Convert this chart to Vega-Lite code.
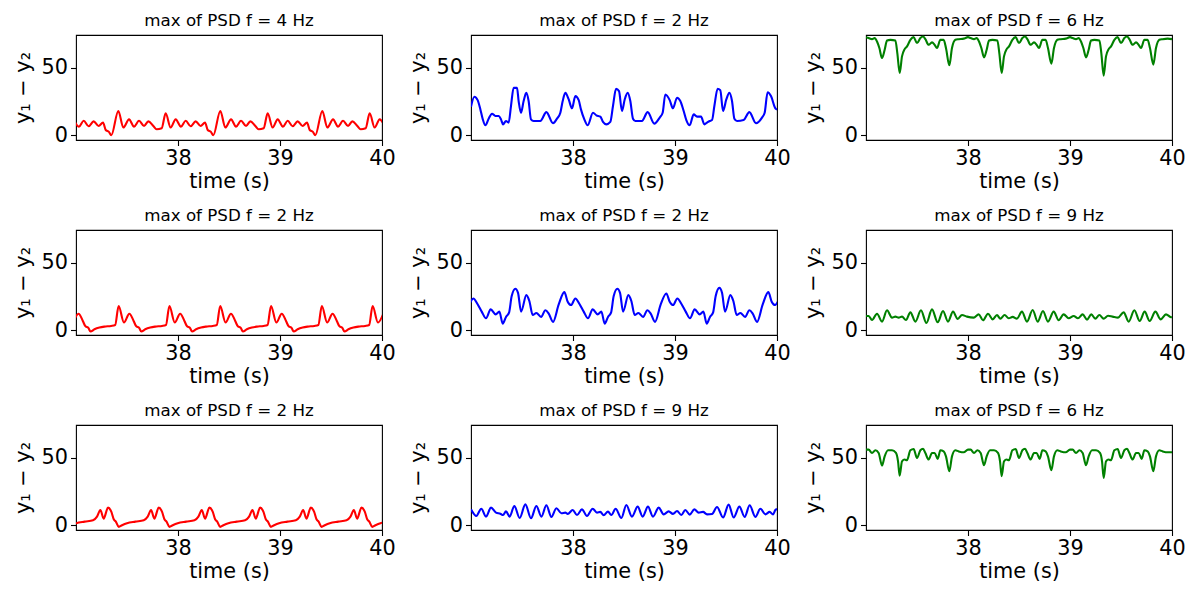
{
  "$schema": "https://vega.github.io/schema/vega-lite/v6.json",
  "background": "white",
  "padding": {"left": 11, "top": 12, "right": 5, "bottom": 5},
  "columns": 3,
  "bounds": "flush",
  "spacing": {"row": 90, "column": 89},
  "config": {
    "font": "DejaVu Sans",
    "view": {"stroke": "black", "strokeWidth": 1.1},
    "axis": {
      "labelFont": "DejaVu Sans",
      "titleFont": "DejaVu Sans",
      "labelFontSize": 20.8,
      "titleFontSize": 20.8,
      "titleFontWeight": "normal",
      "labelColor": "black",
      "titleColor": "black",
      "tickColor": "black",
      "tickSize": 5.5,
      "tickWidth": 1.1,
      "domain": false,
      "grid": false,
      "labelFlush": false,
      "labelOverlap": false,
      "labelBound": false
    },
    "axisX": {"labelPadding": 3, "titlePadding": 3},
    "axisY": {"labelPadding": 3, "titlePadding": 8},
    "title": {"font": "DejaVu Sans", "fontSize": 16.7, "fontWeight": "normal", "color": "black", "offset": 5}
  },
  "datasets": {
    "p1": [
      {"t": 36.977, "v": 11.8}, {"t": 37.029, "v": 6.4}, {"t": 37.075, "v": 10.8}, {"t": 37.124, "v": 6.7}, {"t": 37.173, "v": 10.3}, {"t": 37.222, "v": 6.9}, {"t": 37.265, "v": 9.4}, {"t": 37.291, "v": 3.9}, {"t": 37.323, "v": 2.5}, {"t": 37.346, "v": 0},
      {"t": 37.415, "v": 18}, {"t": 37.464, "v": 5.7}, {"t": 37.52, "v": 11.8}, {"t": 37.569, "v": 6.4}, {"t": 37.618, "v": 10.8}, {"t": 37.667, "v": 6.9}, {"t": 37.709, "v": 10.3}, {"t": 37.758, "v": 6.9}, {"t": 37.791, "v": 4.4}, {"t": 37.84, "v": 5.2}, {"t": 37.879, "v": 16.3}, {"t": 37.928, "v": 5.7}, {"t": 37.977, "v": 11.8}, {"t": 38.029, "v": 6.4}, {"t": 38.075, "v": 10.8}, {"t": 38.124, "v": 6.7}, {"t": 38.173, "v": 10.3}, {"t": 38.222, "v": 6.9}, {"t": 38.265, "v": 9.4}, {"t": 38.291, "v": 3.9}, {"t": 38.323, "v": 2.5}, {"t": 38.346, "v": 0},
      {"t": 38.415, "v": 18}, {"t": 38.464, "v": 5.7}, {"t": 38.52, "v": 11.8}, {"t": 38.569, "v": 6.4}, {"t": 38.618, "v": 10.8}, {"t": 38.667, "v": 6.9}, {"t": 38.709, "v": 10.3}, {"t": 38.758, "v": 6.9}, {"t": 38.791, "v": 4.4}, {"t": 38.84, "v": 5.2}, {"t": 38.879, "v": 16.3}, {"t": 38.928, "v": 5.7}, {"t": 38.977, "v": 11.8}, {"t": 39.029, "v": 6.4}, {"t": 39.075, "v": 10.8}, {"t": 39.124, "v": 6.7}, {"t": 39.173, "v": 10.3}, {"t": 39.222, "v": 6.9}, {"t": 39.265, "v": 9.4}, {"t": 39.291, "v": 3.9}, {"t": 39.323, "v": 2.5}, {"t": 39.346, "v": 0},
      {"t": 39.415, "v": 18}, {"t": 39.464, "v": 5.7}, {"t": 39.52, "v": 11.8}, {"t": 39.569, "v": 6.4}, {"t": 39.618, "v": 10.8}, {"t": 39.667, "v": 6.9}, {"t": 39.709, "v": 10.3}, {"t": 39.758, "v": 6.9}, {"t": 39.791, "v": 4.4}, {"t": 39.84, "v": 5.2}, {"t": 39.879, "v": 16.3}, {"t": 39.928, "v": 5.7}, {"t": 39.977, "v": 11.8}, {"t": 40.029, "v": 6.4}
    ],
    "p2": [
      {"t": 37.0, "v": 21.2}, {"t": 37.033, "v": 28.6}, {"t": 37.065, "v": 26.1}, {"t": 37.092, "v": 19.2}, {"t": 37.114, "v": 12.3}, {"t": 37.141, "v": 7.4}, {"t": 37.173, "v": 12.3}, {"t": 37.206, "v": 16.0}, {"t": 37.239, "v": 14.3}, {"t": 37.271, "v": 14.3}, {"t": 37.294, "v": 11.8}, {"t": 37.314, "v": 8.1}, {"t": 37.343, "v": 10.6}, {"t": 37.369, "v": 9.4}, {"t": 37.392, "v": 21.7}, {"t": 37.418, "v": 35.2}, {"t": 37.451, "v": 35.2}, {"t": 37.467, "v": 25.4}, {"t": 37.49, "v": 16.7}, {"t": 37.516, "v": 25.4}, {"t": 37.542, "v": 31.5}, {"t": 37.565, "v": 25.4}, {"t": 37.588, "v": 11.8}, {"t": 37.614, "v": 10.6}, {"t": 37.68, "v": 10.6}, {"t": 37.739, "v": 17.2}, {"t": 37.804, "v": 8.9}, {"t": 37.843, "v": 12.3}, {"t": 37.876, "v": 16.7}, {"t": 37.899, "v": 25.4}, {"t": 37.925, "v": 31.5}, {"t": 37.958, "v": 26.6}, {"t": 37.99, "v": 20.0},
      {"t": 38.023, "v": 29.1}, {"t": 38.056, "v": 26.1}, {"t": 38.078, "v": 19.2}, {"t": 38.111, "v": 11.8}, {"t": 38.144, "v": 7.4}, {"t": 38.196, "v": 16.7}, {"t": 38.229, "v": 14.8}, {"t": 38.268, "v": 13.8}, {"t": 38.294, "v": 9.9}, {"t": 38.327, "v": 8.1}, {"t": 38.366, "v": 9.9}, {"t": 38.392, "v": 21.7}, {"t": 38.422, "v": 34.5}, {"t": 38.451, "v": 32.8}, {"t": 38.48, "v": 18.0}, {"t": 38.507, "v": 26.6}, {"t": 38.536, "v": 31.5}, {"t": 38.562, "v": 25.4}, {"t": 38.588, "v": 12.3}, {"t": 38.611, "v": 10.6}, {"t": 38.676, "v": 10.6}, {"t": 38.732, "v": 17.2}, {"t": 38.797, "v": 8.6}, {"t": 38.85, "v": 13.1}, {"t": 38.879, "v": 16.7}, {"t": 38.905, "v": 30.3}, {"t": 38.948, "v": 26.1}, {"t": 38.98, "v": 20.0},
      {"t": 39.02, "v": 27.8}, {"t": 39.052, "v": 25.4}, {"t": 39.085, "v": 18.0}, {"t": 39.111, "v": 11.3}, {"t": 39.144, "v": 7.4}, {"t": 39.183, "v": 15.5}, {"t": 39.216, "v": 13.8}, {"t": 39.255, "v": 13.8}, {"t": 39.288, "v": 8.1}, {"t": 39.314, "v": 9.4}, {"t": 39.34, "v": 10.6}, {"t": 39.363, "v": 11.3}, {"t": 39.386, "v": 21.7}, {"t": 39.418, "v": 34.5}, {"t": 39.444, "v": 33.5}, {"t": 39.471, "v": 18.0}, {"t": 39.503, "v": 26.6}, {"t": 39.533, "v": 31.5}, {"t": 39.559, "v": 25.4}, {"t": 39.582, "v": 12.3}, {"t": 39.608, "v": 10.6}, {"t": 39.673, "v": 11.3}, {"t": 39.729, "v": 17.2}, {"t": 39.794, "v": 8.9}, {"t": 39.853, "v": 13.1}, {"t": 39.879, "v": 16.7}, {"t": 39.908, "v": 32.0}, {"t": 39.941, "v": 29.1}, {"t": 39.984, "v": 20.0}, {"t": 40.0, "v": 19.0}
    ],
    "p3": [
      {"t": 37.0, "v": 72.9}, {"t": 37.026, "v": 72.2}, {"t": 37.059, "v": 71.4}, {"t": 37.085, "v": 72.2}, {"t": 37.108, "v": 69.7}, {"t": 37.131, "v": 64.8}, {"t": 37.157, "v": 57.4}, {"t": 37.183, "v": 63.5}, {"t": 37.206, "v": 70.4}, {"t": 37.239, "v": 70.9}, {"t": 37.288, "v": 70.4}, {"t": 37.307, "v": 61.1}, {"t": 37.33, "v": 46.3}, {"t": 37.353, "v": 58.6}, {"t": 37.379, "v": 64.0}, {"t": 37.402, "v": 66.0}, {"t": 37.435, "v": 70.9}, {"t": 37.467, "v": 72.9}, {"t": 37.5, "v": 68.5}, {"t": 37.533, "v": 72.2}, {"t": 37.559, "v": 73.4}, {"t": 37.582, "v": 71.4}, {"t": 37.614, "v": 67.2}, {"t": 37.647, "v": 69.0}, {"t": 37.673, "v": 67.2}, {"t": 37.696, "v": 64.8}, {"t": 37.729, "v": 70.9}, {"t": 37.761, "v": 70.9}, {"t": 37.784, "v": 64.8}, {"t": 37.817, "v": 52.0}, {"t": 37.843, "v": 64.8}, {"t": 37.876, "v": 70.9}, {"t": 37.908, "v": 71.4}, {"t": 37.958, "v": 71.8},
      {"t": 38.0, "v": 72.9}, {"t": 38.026, "v": 72.2}, {"t": 38.059, "v": 71.4}, {"t": 38.085, "v": 72.2}, {"t": 38.108, "v": 69.7}, {"t": 38.131, "v": 64.8}, {"t": 38.157, "v": 57.9}, {"t": 38.183, "v": 63.5}, {"t": 38.206, "v": 70.4}, {"t": 38.239, "v": 70.9}, {"t": 38.288, "v": 70.4}, {"t": 38.307, "v": 61.1}, {"t": 38.33, "v": 46.3}, {"t": 38.353, "v": 58.6}, {"t": 38.379, "v": 64.0}, {"t": 38.402, "v": 66.0}, {"t": 38.435, "v": 70.9}, {"t": 38.467, "v": 72.9}, {"t": 38.5, "v": 68.5}, {"t": 38.533, "v": 72.2}, {"t": 38.559, "v": 73.4}, {"t": 38.582, "v": 71.4}, {"t": 38.614, "v": 67.2}, {"t": 38.647, "v": 69.0}, {"t": 38.673, "v": 67.2}, {"t": 38.696, "v": 64.8}, {"t": 38.729, "v": 70.9}, {"t": 38.761, "v": 70.9}, {"t": 38.784, "v": 64.8}, {"t": 38.817, "v": 53.2}, {"t": 38.843, "v": 64.8}, {"t": 38.876, "v": 70.9}, {"t": 38.908, "v": 71.4}, {"t": 38.958, "v": 71.8},
      {"t": 39.0, "v": 72.9}, {"t": 39.026, "v": 72.2}, {"t": 39.059, "v": 71.4}, {"t": 39.085, "v": 72.2}, {"t": 39.108, "v": 69.7}, {"t": 39.131, "v": 64.8}, {"t": 39.157, "v": 57.9}, {"t": 39.183, "v": 63.5}, {"t": 39.206, "v": 70.4}, {"t": 39.239, "v": 70.9}, {"t": 39.288, "v": 70.4}, {"t": 39.307, "v": 61.1}, {"t": 39.33, "v": 44.3}, {"t": 39.353, "v": 58.6}, {"t": 39.379, "v": 64.0}, {"t": 39.402, "v": 66.0}, {"t": 39.435, "v": 70.9}, {"t": 39.467, "v": 72.9}, {"t": 39.5, "v": 68.5}, {"t": 39.533, "v": 72.2}, {"t": 39.559, "v": 73.4}, {"t": 39.582, "v": 71.4}, {"t": 39.614, "v": 67.2}, {"t": 39.647, "v": 69.0}, {"t": 39.673, "v": 67.2}, {"t": 39.696, "v": 64.8}, {"t": 39.729, "v": 70.9}, {"t": 39.761, "v": 70.9}, {"t": 39.784, "v": 64.8}, {"t": 39.817, "v": 52.5}, {"t": 39.843, "v": 64.8}, {"t": 39.876, "v": 70.9}, {"t": 39.908, "v": 71.4}, {"t": 39.958, "v": 71.8}, {"t": 40.0, "v": 71.4}
    ],
    "p4": [
      {"t": 36.972, "v": 5.7}, {"t": 37.025, "v": 12.3}, {"t": 37.067, "v": 6.9}, {"t": 37.09, "v": 3.2}, {"t": 37.123, "v": 1.5}, {"t": 37.142, "v": -1.0}, {"t": 37.181, "v": 0.7}, {"t": 37.23, "v": 2.0}, {"t": 37.279, "v": 2.7}, {"t": 37.345, "v": 3.2}, {"t": 37.384, "v": 3.9},
      {"t": 37.418, "v": 18}, {"t": 37.47, "v": 5.7}, {"t": 37.523, "v": 12.3}, {"t": 37.565, "v": 6.9}, {"t": 37.588, "v": 3.2}, {"t": 37.621, "v": 1.5}, {"t": 37.64, "v": -1.0}, {"t": 37.679, "v": 0.7}, {"t": 37.728, "v": 2.0}, {"t": 37.777, "v": 2.7}, {"t": 37.843, "v": 3.2}, {"t": 37.882, "v": 3.9},
      {"t": 37.916, "v": 18}, {"t": 37.968, "v": 5.7}, {"t": 38.021, "v": 12.3}, {"t": 38.063, "v": 6.9}, {"t": 38.086, "v": 3.2}, {"t": 38.119, "v": 1.5}, {"t": 38.138, "v": -1.0}, {"t": 38.177, "v": 0.7}, {"t": 38.226, "v": 2.0}, {"t": 38.275, "v": 2.7}, {"t": 38.341, "v": 3.2}, {"t": 38.38, "v": 3.9},
      {"t": 38.414, "v": 18}, {"t": 38.466, "v": 5.7}, {"t": 38.519, "v": 12.3}, {"t": 38.561, "v": 6.9}, {"t": 38.584, "v": 3.2}, {"t": 38.617, "v": 1.5}, {"t": 38.636, "v": -1.0}, {"t": 38.675, "v": 0.7}, {"t": 38.724, "v": 2.0}, {"t": 38.773, "v": 2.7}, {"t": 38.839, "v": 3.2}, {"t": 38.878, "v": 3.9},
      {"t": 38.912, "v": 18}, {"t": 38.964, "v": 5.7}, {"t": 39.017, "v": 12.3}, {"t": 39.059, "v": 6.9}, {"t": 39.082, "v": 3.2}, {"t": 39.115, "v": 1.5}, {"t": 39.134, "v": -1.0}, {"t": 39.173, "v": 0.7}, {"t": 39.222, "v": 2.0}, {"t": 39.271, "v": 2.7}, {"t": 39.337, "v": 3.2}, {"t": 39.376, "v": 3.9},
      {"t": 39.41, "v": 18}, {"t": 39.462, "v": 5.7}, {"t": 39.515, "v": 12.3}, {"t": 39.557, "v": 6.9}, {"t": 39.58, "v": 3.2}, {"t": 39.613, "v": 1.5}, {"t": 39.632, "v": -1.0}, {"t": 39.671, "v": 0.7}, {"t": 39.72, "v": 2.0}, {"t": 39.769, "v": 2.7}, {"t": 39.835, "v": 3.2}, {"t": 39.874, "v": 3.9},
      {"t": 39.908, "v": 18}, {"t": 39.96, "v": 5.7}, {"t": 40.013, "v": 12.3}
    ],
    "p5": [
      {"t": 36.981, "v": 18.7}, {"t": 37.023, "v": 23.6}, {"t": 37.062, "v": 19.7}, {"t": 37.105, "v": 13.8}, {"t": 37.147, "v": 8.9}, {"t": 37.193, "v": 15.5}, {"t": 37.242, "v": 11.8}, {"t": 37.278, "v": 13.8}, {"t": 37.311, "v": 4.9}, {"t": 37.343, "v": 9.9}, {"t": 37.373, "v": 13.1}, {"t": 37.399, "v": 25.4},
      {"t": 37.435, "v": 30.8}, {"t": 37.461, "v": 27.8}, {"t": 37.491, "v": 13.8}, {"t": 37.543, "v": 26.1}, {"t": 37.572, "v": 21.7}, {"t": 37.605, "v": 11.3}, {"t": 37.641, "v": 12.8}, {"t": 37.687, "v": 9.9}, {"t": 37.729, "v": 14.8}, {"t": 37.762, "v": 12.3}, {"t": 37.804, "v": 6.2}, {"t": 37.86, "v": 19.2}, {"t": 37.915, "v": 28.3}, {"t": 37.948, "v": 21.2}, {"t": 37.981, "v": 18.7}, {"t": 38.023, "v": 23.6}, {"t": 38.062, "v": 19.7}, {"t": 38.105, "v": 13.8}, {"t": 38.147, "v": 8.9}, {"t": 38.193, "v": 15.5}, {"t": 38.242, "v": 11.8}, {"t": 38.278, "v": 13.8}, {"t": 38.311, "v": 4.9}, {"t": 38.343, "v": 9.9}, {"t": 38.373, "v": 13.1}, {"t": 38.399, "v": 25.4},
      {"t": 38.435, "v": 30.8}, {"t": 38.461, "v": 27.8}, {"t": 38.491, "v": 13.8}, {"t": 38.543, "v": 26.1}, {"t": 38.572, "v": 21.7}, {"t": 38.605, "v": 11.3}, {"t": 38.641, "v": 12.8}, {"t": 38.687, "v": 9.9}, {"t": 38.729, "v": 14.8}, {"t": 38.762, "v": 12.3}, {"t": 38.804, "v": 6.2}, {"t": 38.86, "v": 19.2}, {"t": 38.915, "v": 27.3}, {"t": 38.948, "v": 21.2}, {"t": 38.981, "v": 18.7}, {"t": 39.023, "v": 23.6}, {"t": 39.062, "v": 19.7}, {"t": 39.105, "v": 13.8}, {"t": 39.147, "v": 8.9}, {"t": 39.193, "v": 15.5}, {"t": 39.242, "v": 11.8}, {"t": 39.278, "v": 13.8}, {"t": 39.311, "v": 4.9}, {"t": 39.343, "v": 9.9}, {"t": 39.373, "v": 13.1}, {"t": 39.399, "v": 25.4},
      {"t": 39.435, "v": 31.5}, {"t": 39.461, "v": 27.8}, {"t": 39.491, "v": 13.8}, {"t": 39.543, "v": 26.1}, {"t": 39.572, "v": 21.7}, {"t": 39.605, "v": 11.3}, {"t": 39.641, "v": 12.8}, {"t": 39.687, "v": 9.9}, {"t": 39.729, "v": 14.8}, {"t": 39.762, "v": 12.3}, {"t": 39.804, "v": 6.2}, {"t": 39.86, "v": 19.2}, {"t": 39.915, "v": 28.3}, {"t": 39.948, "v": 21.2}, {"t": 39.981, "v": 18.7}, {"t": 40.023, "v": 23.6}
    ],
    "p6": [
      {"t": 37.0, "v": 10.6}, {"t": 37.026, "v": 10.6}, {"t": 37.059, "v": 7.6}, {"t": 37.108, "v": 12.3}, {"t": 37.157, "v": 6.4}, {"t": 37.206, "v": 14.8}, {"t": 37.255, "v": 9.4}, {"t": 37.288, "v": 10.1}, {"t": 37.32, "v": 9.4}, {"t": 37.353, "v": 10.1}, {"t": 37.392, "v": 7.6}, {"t": 37.435, "v": 13.3}, {"t": 37.484, "v": 6.4}, {"t": 37.539, "v": 14.8}, {"t": 37.592, "v": 5.4}, {"t": 37.647, "v": 15.5}, {"t": 37.703, "v": 5.9}, {"t": 37.755, "v": 14.3}, {"t": 37.804, "v": 6.4}, {"t": 37.853, "v": 13.8}, {"t": 37.899, "v": 8.4}, {"t": 37.941, "v": 11.3}, {"t": 37.99, "v": 10.1},
      {"t": 38.056, "v": 9.4}, {"t": 38.105, "v": 11.8}, {"t": 38.147, "v": 7.4}, {"t": 38.196, "v": 12.3}, {"t": 38.242, "v": 8.1}, {"t": 38.284, "v": 11.3}, {"t": 38.317, "v": 8.6}, {"t": 38.359, "v": 11.3}, {"t": 38.399, "v": 8.9}, {"t": 38.438, "v": 9.9}, {"t": 38.48, "v": 8.6}, {"t": 38.529, "v": 13.8}, {"t": 38.578, "v": 6.4}, {"t": 38.634, "v": 15.0}, {"t": 38.683, "v": 6.4}, {"t": 38.735, "v": 14.3}, {"t": 38.784, "v": 6.4}, {"t": 38.84, "v": 13.8}, {"t": 38.889, "v": 7.4}, {"t": 38.938, "v": 11.8}, {"t": 38.987, "v": 8.9},
      {"t": 39.036, "v": 10.6}, {"t": 39.078, "v": 8.9}, {"t": 39.124, "v": 11.8}, {"t": 39.167, "v": 7.9}, {"t": 39.209, "v": 11.8}, {"t": 39.248, "v": 8.6}, {"t": 39.288, "v": 11.3}, {"t": 39.33, "v": 8.6}, {"t": 39.373, "v": 10.8}, {"t": 39.418, "v": 10.1}, {"t": 39.471, "v": 9.4}, {"t": 39.526, "v": 13.3}, {"t": 39.575, "v": 6.4}, {"t": 39.631, "v": 14.8}, {"t": 39.683, "v": 6.9}, {"t": 39.732, "v": 13.8}, {"t": 39.781, "v": 6.9}, {"t": 39.837, "v": 13.8}, {"t": 39.889, "v": 8.1}, {"t": 39.941, "v": 11.8}, {"t": 39.984, "v": 9.9}, {"t": 40.0, "v": 9.6}
    ],
    "p7": [
      {"t": 36.954, "v": 0}, {"t": 37.003, "v": 1.5}, {"t": 37.085, "v": 2.7}, {"t": 37.167, "v": 3.7}, {"t": 37.206, "v": 6.4}, {"t": 37.239, "v": 11.3}, {"t": 37.271, "v": 4.9},
      {"t": 37.314, "v": 13.1}, {"t": 37.347, "v": 9.9}, {"t": 37.37, "v": 4.4}, {"t": 37.392, "v": 2.5}, {"t": 37.419, "v": -1.2}, {"t": 37.451, "v": 0}, {"t": 37.5, "v": 1.5}, {"t": 37.582, "v": 2.7}, {"t": 37.664, "v": 3.7}, {"t": 37.703, "v": 6.4}, {"t": 37.736, "v": 11.3}, {"t": 37.768, "v": 4.9},
      {"t": 37.811, "v": 13.1}, {"t": 37.844, "v": 9.9}, {"t": 37.867, "v": 4.4}, {"t": 37.889, "v": 2.5}, {"t": 37.916, "v": -1.2}, {"t": 37.948, "v": 0}, {"t": 37.997, "v": 1.5}, {"t": 38.079, "v": 2.7}, {"t": 38.161, "v": 3.7}, {"t": 38.2, "v": 6.4}, {"t": 38.233, "v": 11.3}, {"t": 38.265, "v": 4.9},
      {"t": 38.308, "v": 13.1}, {"t": 38.341, "v": 9.9}, {"t": 38.364, "v": 4.4}, {"t": 38.386, "v": 2.5}, {"t": 38.413, "v": -1.2}, {"t": 38.445, "v": 0}, {"t": 38.494, "v": 1.5}, {"t": 38.576, "v": 2.7}, {"t": 38.658, "v": 3.7}, {"t": 38.697, "v": 6.4}, {"t": 38.73, "v": 11.3}, {"t": 38.762, "v": 4.9},
      {"t": 38.805, "v": 13.1}, {"t": 38.838, "v": 9.9}, {"t": 38.861, "v": 4.4}, {"t": 38.883, "v": 2.5}, {"t": 38.91, "v": -1.2}, {"t": 38.942, "v": 0}, {"t": 38.991, "v": 1.5}, {"t": 39.073, "v": 2.7}, {"t": 39.155, "v": 3.7}, {"t": 39.194, "v": 6.4}, {"t": 39.227, "v": 11.3}, {"t": 39.259, "v": 4.9},
      {"t": 39.302, "v": 13.1}, {"t": 39.335, "v": 9.9}, {"t": 39.358, "v": 4.4}, {"t": 39.38, "v": 2.5}, {"t": 39.407, "v": -1.2}, {"t": 39.439, "v": 0}, {"t": 39.488, "v": 1.5}, {"t": 39.57, "v": 2.7}, {"t": 39.652, "v": 3.7}, {"t": 39.691, "v": 6.4}, {"t": 39.724, "v": 11.3}, {"t": 39.756, "v": 4.9},
      {"t": 39.799, "v": 13.1}, {"t": 39.832, "v": 9.9}, {"t": 39.855, "v": 4.4}, {"t": 39.877, "v": 2.5}, {"t": 39.904, "v": -1.2}, {"t": 39.936, "v": 0}, {"t": 39.985, "v": 1.5}, {"t": 40.067, "v": 2.7}
    ],
    "p8": [
      {"t": 37.0, "v": 11.8}, {"t": 37.052, "v": 6.9}, {"t": 37.101, "v": 12.3}, {"t": 37.147, "v": 6.4}, {"t": 37.196, "v": 13.1}, {"t": 37.245, "v": 9.4}, {"t": 37.288, "v": 8.6}, {"t": 37.314, "v": 7.6}, {"t": 37.343, "v": 10.3}, {"t": 37.379, "v": 6.4}, {"t": 37.425, "v": 14.3}, {"t": 37.477, "v": 5.4}, {"t": 37.533, "v": 15.5}, {"t": 37.588, "v": 5.2}, {"t": 37.641, "v": 14.3}, {"t": 37.69, "v": 6.4}, {"t": 37.739, "v": 14.8}, {"t": 37.788, "v": 6.2}, {"t": 37.837, "v": 12.6}, {"t": 37.886, "v": 8.9}, {"t": 37.925, "v": 9.4}, {"t": 37.948, "v": 8.4}, {"t": 37.997, "v": 11.3},
      {"t": 38.039, "v": 7.6}, {"t": 38.088, "v": 11.8}, {"t": 38.137, "v": 6.9}, {"t": 38.193, "v": 12.3}, {"t": 38.235, "v": 9.4}, {"t": 38.268, "v": 9.9}, {"t": 38.301, "v": 7.4}, {"t": 38.343, "v": 10.1}, {"t": 38.376, "v": 7.6}, {"t": 38.418, "v": 12.3}, {"t": 38.474, "v": 5.4}, {"t": 38.523, "v": 15.0}, {"t": 38.578, "v": 6.4}, {"t": 38.634, "v": 13.8}, {"t": 38.683, "v": 6.4}, {"t": 38.735, "v": 13.8}, {"t": 38.784, "v": 6.4}, {"t": 38.84, "v": 13.1}, {"t": 38.889, "v": 8.1}, {"t": 38.938, "v": 10.3}, {"t": 38.98, "v": 8.4},
      {"t": 39.02, "v": 10.6}, {"t": 39.062, "v": 7.6}, {"t": 39.101, "v": 11.3}, {"t": 39.144, "v": 7.9}, {"t": 39.19, "v": 11.8}, {"t": 39.232, "v": 9.4}, {"t": 39.275, "v": 9.9}, {"t": 39.314, "v": 8.1}, {"t": 39.363, "v": 8.4}, {"t": 39.412, "v": 13.6}, {"t": 39.471, "v": 5.7}, {"t": 39.526, "v": 15.3}, {"t": 39.575, "v": 5.7}, {"t": 39.631, "v": 13.8}, {"t": 39.683, "v": 6.2}, {"t": 39.732, "v": 14.8}, {"t": 39.788, "v": 6.2}, {"t": 39.837, "v": 12.3}, {"t": 39.886, "v": 8.1}, {"t": 39.928, "v": 9.9}, {"t": 39.961, "v": 8.1}, {"t": 39.984, "v": 11.3}, {"t": 40.0, "v": 12.0}
    ],
    "p9": [
      {"t": 37.0, "v": 56.2}, {"t": 37.026, "v": 56.2}, {"t": 37.059, "v": 53.7}, {"t": 37.092, "v": 55.7}, {"t": 37.124, "v": 53.7}, {"t": 37.157, "v": 44.3}, {"t": 37.183, "v": 51.2}, {"t": 37.216, "v": 55.7}, {"t": 37.255, "v": 55.7}, {"t": 37.294, "v": 53.7}, {"t": 37.314, "v": 47.5}, {"t": 37.33, "v": 36.9}, {"t": 37.353, "v": 47.5}, {"t": 37.379, "v": 48.8}, {"t": 37.402, "v": 48.3}, {"t": 37.435, "v": 55.7}, {"t": 37.467, "v": 56.7}, {"t": 37.5, "v": 50.0}, {"t": 37.533, "v": 55.7}, {"t": 37.559, "v": 56.9}, {"t": 37.582, "v": 53.7}, {"t": 37.614, "v": 48.8}, {"t": 37.647, "v": 53.7}, {"t": 37.673, "v": 53.7}, {"t": 37.703, "v": 49.3}, {"t": 37.729, "v": 55.7}, {"t": 37.761, "v": 54.9}, {"t": 37.784, "v": 51.2}, {"t": 37.817, "v": 40.1}, {"t": 37.843, "v": 51.2}, {"t": 37.876, "v": 55.7}, {"t": 37.908, "v": 54.9}, {"t": 37.958, "v": 54.2},
      {"t": 38.0, "v": 56.2}, {"t": 38.026, "v": 56.2}, {"t": 38.059, "v": 53.7}, {"t": 38.092, "v": 55.7}, {"t": 38.124, "v": 53.7}, {"t": 38.157, "v": 44.6}, {"t": 38.183, "v": 51.2}, {"t": 38.216, "v": 55.7}, {"t": 38.255, "v": 55.7}, {"t": 38.294, "v": 53.7}, {"t": 38.314, "v": 47.5}, {"t": 38.33, "v": 36.5}, {"t": 38.353, "v": 47.5}, {"t": 38.379, "v": 48.8}, {"t": 38.402, "v": 48.3}, {"t": 38.435, "v": 55.7}, {"t": 38.467, "v": 56.7}, {"t": 38.5, "v": 50.0}, {"t": 38.533, "v": 55.7}, {"t": 38.559, "v": 56.9}, {"t": 38.582, "v": 53.7}, {"t": 38.614, "v": 48.8}, {"t": 38.647, "v": 53.7}, {"t": 38.673, "v": 53.7}, {"t": 38.703, "v": 49.3}, {"t": 38.729, "v": 55.7}, {"t": 38.761, "v": 54.9}, {"t": 38.784, "v": 51.2}, {"t": 38.817, "v": 40.9}, {"t": 38.843, "v": 51.2}, {"t": 38.876, "v": 55.7}, {"t": 38.908, "v": 54.9}, {"t": 38.958, "v": 54.2},
      {"t": 39.0, "v": 56.2}, {"t": 39.026, "v": 56.2}, {"t": 39.059, "v": 53.7}, {"t": 39.092, "v": 55.7}, {"t": 39.124, "v": 53.7}, {"t": 39.157, "v": 44.6}, {"t": 39.183, "v": 51.2}, {"t": 39.216, "v": 55.7}, {"t": 39.255, "v": 55.7}, {"t": 39.294, "v": 53.7}, {"t": 39.314, "v": 47.5}, {"t": 39.33, "v": 35.2}, {"t": 39.353, "v": 47.5}, {"t": 39.379, "v": 48.8}, {"t": 39.402, "v": 48.3}, {"t": 39.435, "v": 55.7}, {"t": 39.467, "v": 56.7}, {"t": 39.5, "v": 50.0}, {"t": 39.533, "v": 55.7}, {"t": 39.559, "v": 56.9}, {"t": 39.582, "v": 53.7}, {"t": 39.614, "v": 48.8}, {"t": 39.647, "v": 53.7}, {"t": 39.673, "v": 53.7}, {"t": 39.703, "v": 49.3}, {"t": 39.729, "v": 55.7}, {"t": 39.761, "v": 54.9}, {"t": 39.784, "v": 51.2}, {"t": 39.817, "v": 40.1}, {"t": 39.843, "v": 51.2}, {"t": 39.876, "v": 55.7}, {"t": 39.908, "v": 54.9}, {"t": 39.958, "v": 54.2}, {"t": 40.0, "v": 54.2}
    ]
  },
  "concat": [
    {
      "title": "max of PSD f = 4 Hz", "width": 306, "height": 105,
      "data": {"name": "p1"},
      "mark": {"type": "line", "color": "#ff0000", "strokeWidth": 2.1, "interpolate": "monotone", "clip": true},
      "encoding": {
        "x": {"field": "t", "type": "quantitative", "scale": {"domain": [37, 40], "nice": false, "zero": false}, "axis": {"values": [38, 39, 40], "title": "time (s)"}},
        "y": {"field": "v", "type": "quantitative", "scale": {"domain": [-3.55, 74.5], "nice": false, "zero": false}, "axis": {"values": [0, 50], "title": "y₁ − y₂"}}
      }
    },
    {
      "title": "max of PSD f = 2 Hz", "width": 306, "height": 105,
      "data": {"name": "p2"},
      "mark": {"type": "line", "color": "#0000ff", "strokeWidth": 2.1, "interpolate": "monotone", "clip": true},
      "encoding": {
        "x": {"field": "t", "type": "quantitative", "scale": {"domain": [37, 40], "nice": false, "zero": false}, "axis": {"values": [38, 39, 40], "title": "time (s)"}},
        "y": {"field": "v", "type": "quantitative", "scale": {"domain": [-3.55, 74.5], "nice": false, "zero": false}, "axis": {"values": [0, 50], "title": "y₁ − y₂"}}
      }
    },
    {
      "title": "max of PSD f = 6 Hz", "width": 306, "height": 105,
      "data": {"name": "p3"},
      "mark": {"type": "line", "color": "#008000", "strokeWidth": 2.1, "interpolate": "monotone", "clip": true},
      "encoding": {
        "x": {"field": "t", "type": "quantitative", "scale": {"domain": [37, 40], "nice": false, "zero": false}, "axis": {"values": [38, 39, 40], "title": "time (s)"}},
        "y": {"field": "v", "type": "quantitative", "scale": {"domain": [-3.55, 74.5], "nice": false, "zero": false}, "axis": {"values": [0, 50], "title": "y₁ − y₂"}}
      }
    },
    {
      "title": "max of PSD f = 2 Hz", "width": 306, "height": 105,
      "data": {"name": "p4"},
      "mark": {"type": "line", "color": "#ff0000", "strokeWidth": 2.1, "interpolate": "monotone", "clip": true},
      "encoding": {
        "x": {"field": "t", "type": "quantitative", "scale": {"domain": [37, 40], "nice": false, "zero": false}, "axis": {"values": [38, 39, 40], "title": "time (s)"}},
        "y": {"field": "v", "type": "quantitative", "scale": {"domain": [-3.55, 74.5], "nice": false, "zero": false}, "axis": {"values": [0, 50], "title": "y₁ − y₂"}}
      }
    },
    {
      "title": "max of PSD f = 2 Hz", "width": 306, "height": 105,
      "data": {"name": "p5"},
      "mark": {"type": "line", "color": "#0000ff", "strokeWidth": 2.1, "interpolate": "monotone", "clip": true},
      "encoding": {
        "x": {"field": "t", "type": "quantitative", "scale": {"domain": [37, 40], "nice": false, "zero": false}, "axis": {"values": [38, 39, 40], "title": "time (s)"}},
        "y": {"field": "v", "type": "quantitative", "scale": {"domain": [-3.55, 74.5], "nice": false, "zero": false}, "axis": {"values": [0, 50], "title": "y₁ − y₂"}}
      }
    },
    {
      "title": "max of PSD f = 9 Hz", "width": 306, "height": 105,
      "data": {"name": "p6"},
      "mark": {"type": "line", "color": "#008000", "strokeWidth": 2.1, "interpolate": "monotone", "clip": true},
      "encoding": {
        "x": {"field": "t", "type": "quantitative", "scale": {"domain": [37, 40], "nice": false, "zero": false}, "axis": {"values": [38, 39, 40], "title": "time (s)"}},
        "y": {"field": "v", "type": "quantitative", "scale": {"domain": [-3.55, 74.5], "nice": false, "zero": false}, "axis": {"values": [0, 50], "title": "y₁ − y₂"}}
      }
    },
    {
      "title": "max of PSD f = 2 Hz", "width": 306, "height": 105,
      "data": {"name": "p7"},
      "mark": {"type": "line", "color": "#ff0000", "strokeWidth": 2.1, "interpolate": "monotone", "clip": true},
      "encoding": {
        "x": {"field": "t", "type": "quantitative", "scale": {"domain": [37, 40], "nice": false, "zero": false}, "axis": {"values": [38, 39, 40], "title": "time (s)"}},
        "y": {"field": "v", "type": "quantitative", "scale": {"domain": [-3.55, 74.5], "nice": false, "zero": false}, "axis": {"values": [0, 50], "title": "y₁ − y₂"}}
      }
    },
    {
      "title": "max of PSD f = 9 Hz", "width": 306, "height": 105,
      "data": {"name": "p8"},
      "mark": {"type": "line", "color": "#0000ff", "strokeWidth": 2.1, "interpolate": "monotone", "clip": true},
      "encoding": {
        "x": {"field": "t", "type": "quantitative", "scale": {"domain": [37, 40], "nice": false, "zero": false}, "axis": {"values": [38, 39, 40], "title": "time (s)"}},
        "y": {"field": "v", "type": "quantitative", "scale": {"domain": [-3.55, 74.5], "nice": false, "zero": false}, "axis": {"values": [0, 50], "title": "y₁ − y₂"}}
      }
    },
    {
      "title": "max of PSD f = 6 Hz", "width": 306, "height": 105,
      "data": {"name": "p9"},
      "mark": {"type": "line", "color": "#008000", "strokeWidth": 2.1, "interpolate": "monotone", "clip": true},
      "encoding": {
        "x": {"field": "t", "type": "quantitative", "scale": {"domain": [37, 40], "nice": false, "zero": false}, "axis": {"values": [38, 39, 40], "title": "time (s)"}},
        "y": {"field": "v", "type": "quantitative", "scale": {"domain": [-3.55, 74.5], "nice": false, "zero": false}, "axis": {"values": [0, 50], "title": "y₁ − y₂"}}
      }
    }
  ]
}
